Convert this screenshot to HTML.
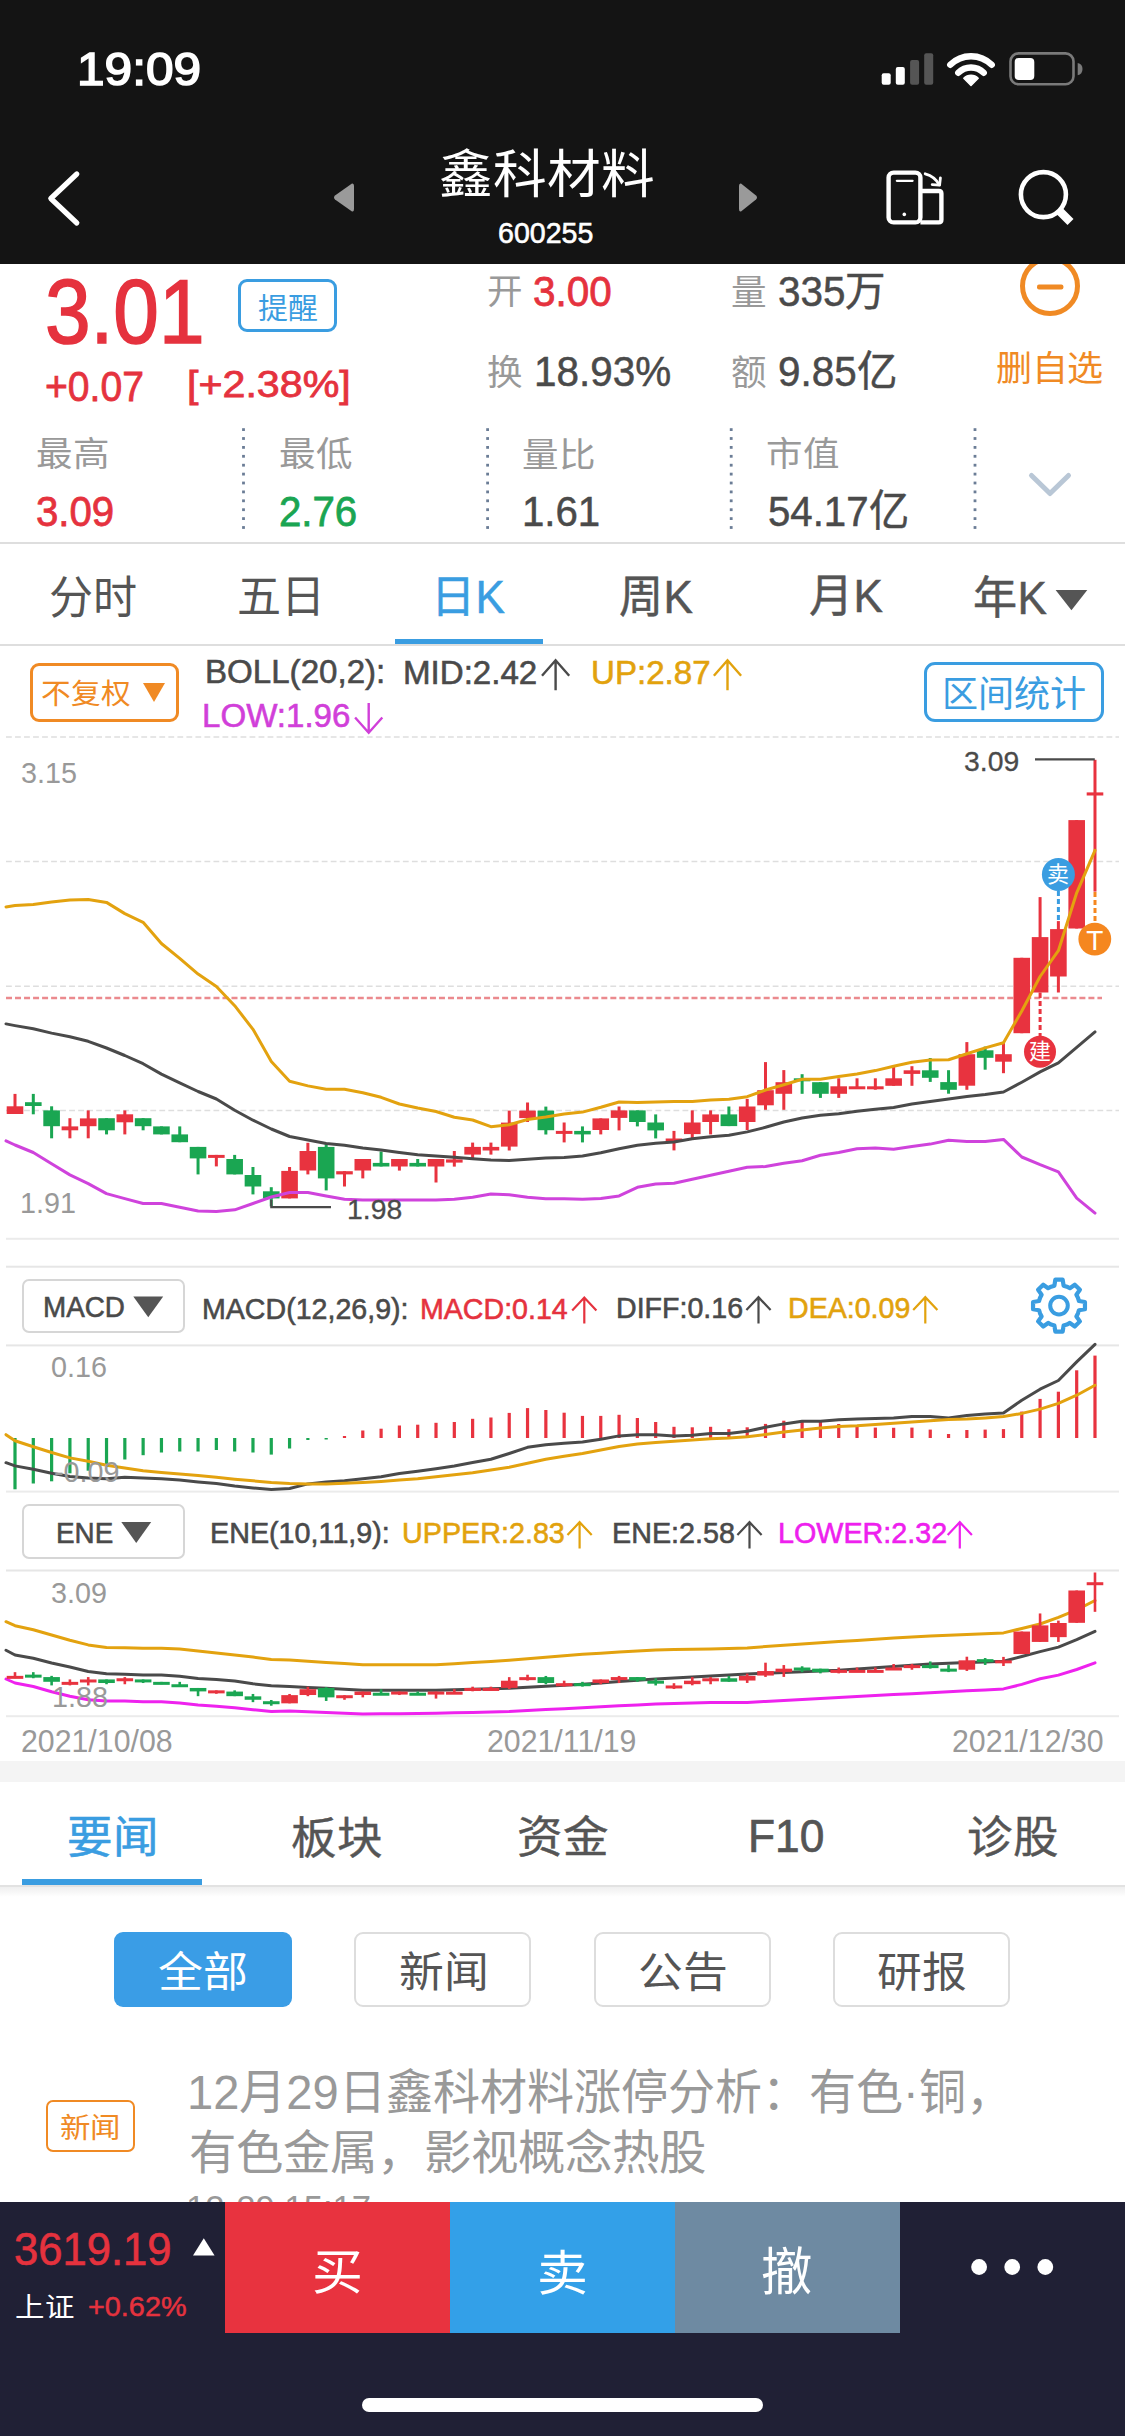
<!DOCTYPE html>
<html lang="zh-CN"><head><meta charset="utf-8"><style>
html,body{margin:0;padding:0}
body{width:1125px;height:2436px;position:relative;overflow:hidden;background:#fff;font-family:"Liberation Sans",sans-serif}
.t{position:absolute;white-space:pre;line-height:1;transform-origin:0 0}
.b{position:absolute;box-sizing:border-box}
svg{position:absolute;left:0;top:0}
</style></head><body>
<div class="b" style="left:0;top:0;width:1125px;height:263.5px;background:#141414;z-index:1"></div>
<svg width="1125" height="2436" viewBox="0 0 1125 2436" style="z-index:0">
<circle cx="1050" cy="286" r="27.5" fill="none" stroke="#f08a24" stroke-width="5"/>
</svg>
<div class="b" style="left:0;top:542.4px;width:1125px;height:2px;background:#dedede"></div>
<div class="b" style="left:0;top:644px;width:1125px;height:2px;background:#dedede"></div>
<div class="b" style="left:394.5px;top:638.6px;width:148.5px;height:5.6px;background:#3a9de1"></div>
<div class="b" style="left:238px;top:279px;width:99px;height:53px;border:3px solid #3a9de1;border-radius:9px"></div>
<div class="b" style="left:30px;top:662.8px;width:149px;height:59px;border:3px solid #f08a24;border-radius:9px"></div>
<div class="b" style="left:924px;top:662.4px;width:180px;height:59.2px;border:3px solid #3a9de1;border-radius:11px"></div>
<div class="b" style="left:22px;top:1279.2px;width:163.3px;height:54.1px;border:2.2px solid #d6d6d6;border-radius:7px"></div>
<div class="b" style="left:22px;top:1503.5px;width:163.3px;height:55.5px;border:2.2px solid #d6d6d6;border-radius:7px"></div>
<div class="b" style="left:0;top:1760.7px;width:1125px;height:21.3px;background:#f4f4f4"></div>
<div class="b" style="left:22px;top:1879px;width:180px;height:6px;background:#3a9de1"></div>
<div class="b" style="left:0;top:1885px;width:1125px;height:2px;background:#e2e2e2"></div>
<div class="b" style="left:0;top:1887px;width:1125px;height:10px;background:linear-gradient(#efefef,#ffffff)"></div>
<div class="b" style="left:114.3px;top:1932.3px;width:178px;height:74.4px;background:#3a9de6;border-radius:9px"></div>
<div class="b" style="left:354.3px;top:1932.3px;width:177px;height:74.4px;border:2.5px solid #dddddd;border-radius:9px"></div>
<div class="b" style="left:593.8px;top:1932.3px;width:177px;height:74.4px;border:2.5px solid #dddddd;border-radius:9px"></div>
<div class="b" style="left:833.3px;top:1932.3px;width:177px;height:74.4px;border:2.5px solid #dddddd;border-radius:9px"></div>
<div class="b" style="left:45.5px;top:2099.5px;width:89.1px;height:52.7px;border:2.6px solid #f08a24;border-radius:7px"></div>
<div class="t" style="left:186px;top:2190.6px;font-size:34.7px;color:#999">12-29 15:17</div>
<svg width="1125" height="2436" viewBox="0 0 1125 2436" style="z-index:2">
<line x1="6.0" y1="737" x2="1119.0" y2="737" stroke="#dedede" stroke-width="1.4" stroke-dasharray="5.8 3.22"/>
<line x1="6.0" y1="861.5" x2="1119.0" y2="861.5" stroke="#dedede" stroke-width="1.4" stroke-dasharray="5.8 3.22"/>
<line x1="6.0" y1="986.2" x2="1119.0" y2="986.2" stroke="#dedede" stroke-width="1.4" stroke-dasharray="5.8 3.22"/>
<line x1="6.0" y1="1110.5" x2="1119.0" y2="1110.5" stroke="#dedede" stroke-width="1.4" stroke-dasharray="5.8 3.22"/>
<rect x="6.0" y="1237.8" width="1113.0" height="2" fill="#ebebeb"/>
<line x1="6.0" y1="998" x2="1102" y2="998" stroke="#eb8a8e" stroke-width="2.3" stroke-dasharray="6 3.02"/>
<line x1="1058.4" y1="891" x2="1058.4" y2="921" stroke="#3a9de1" stroke-width="3" stroke-dasharray="5 3"/>
<line x1="1095.0" y1="892" x2="1095.0" y2="923" stroke="#f5871f" stroke-width="3" stroke-dasharray="5 3"/>
<line x1="1040.1" y1="993" x2="1040.1" y2="1036" stroke="#e8333f" stroke-width="3" stroke-dasharray="5 3"/>
<rect x="13.50" y="1093.90" width="3.0" height="20.10" fill="#e8333f"/>
<rect x="6.70" y="1106.30" width="16.6" height="7.70" fill="#e8333f"/>
<rect x="31.80" y="1093.90" width="3.0" height="20.40" fill="#1aa652"/>
<rect x="25.00" y="1102.20" width="16.6" height="3.80" fill="#1aa652"/>
<rect x="50.11" y="1106.30" width="3.0" height="32.00" fill="#1aa652"/>
<rect x="43.31" y="1110.40" width="16.6" height="15.80" fill="#1aa652"/>
<rect x="68.41" y="1118.20" width="3.0" height="20.10" fill="#e8333f"/>
<rect x="61.61" y="1126.40" width="16.6" height="3.90" fill="#e8333f"/>
<rect x="86.72" y="1110.40" width="3.0" height="27.90" fill="#e8333f"/>
<rect x="79.92" y="1118.40" width="16.6" height="7.80" fill="#e8333f"/>
<rect x="105.03" y="1118.20" width="3.0" height="16.20" fill="#1aa652"/>
<rect x="98.23" y="1118.20" width="16.6" height="12.10" fill="#1aa652"/>
<rect x="123.33" y="1110.40" width="3.0" height="24.00" fill="#e8333f"/>
<rect x="116.53" y="1114.30" width="16.6" height="8.00" fill="#e8333f"/>
<rect x="141.63" y="1118.20" width="3.0" height="12.10" fill="#1aa652"/>
<rect x="134.83" y="1118.20" width="16.6" height="8.00" fill="#1aa652"/>
<rect x="159.94" y="1126.40" width="3.0" height="8.00" fill="#1aa652"/>
<rect x="153.14" y="1126.40" width="16.6" height="8.00" fill="#1aa652"/>
<rect x="178.25" y="1126.40" width="3.0" height="15.80" fill="#1aa652"/>
<rect x="171.44" y="1134.40" width="16.6" height="7.80" fill="#1aa652"/>
<rect x="196.55" y="1146.90" width="3.0" height="27.50" fill="#1aa652"/>
<rect x="189.75" y="1146.90" width="16.6" height="11.50" fill="#1aa652"/>
<rect x="214.85" y="1154.90" width="3.0" height="11.50" fill="#e8333f"/>
<rect x="208.05" y="1154.90" width="16.6" height="3.00" fill="#e8333f"/>
<rect x="233.16" y="1154.90" width="3.0" height="19.50" fill="#1aa652"/>
<rect x="226.36" y="1159.00" width="16.6" height="15.40" fill="#1aa652"/>
<rect x="251.47" y="1167.00" width="3.0" height="27.40" fill="#1aa652"/>
<rect x="244.66" y="1175.00" width="16.6" height="11.50" fill="#1aa652"/>
<rect x="269.77" y="1187.20" width="3.0" height="19.20" fill="#1aa652"/>
<rect x="262.97" y="1191.30" width="16.6" height="7.10" fill="#1aa652"/>
<rect x="288.07" y="1167.00" width="3.0" height="31.40" fill="#e8333f"/>
<rect x="281.27" y="1170.90" width="16.6" height="27.50" fill="#e8333f"/>
<rect x="306.38" y="1142.80" width="3.0" height="31.60" fill="#e8333f"/>
<rect x="299.58" y="1151.00" width="16.6" height="19.50" fill="#e8333f"/>
<rect x="324.69" y="1144.20" width="3.0" height="46.20" fill="#1aa652"/>
<rect x="317.88" y="1146.90" width="16.6" height="31.50" fill="#1aa652"/>
<rect x="342.99" y="1171.20" width="3.0" height="15.30" fill="#e8333f"/>
<rect x="336.19" y="1171.20" width="16.6" height="3.20" fill="#e8333f"/>
<rect x="361.30" y="1159.00" width="3.0" height="19.40" fill="#e8333f"/>
<rect x="354.50" y="1159.00" width="16.6" height="11.50" fill="#e8333f"/>
<rect x="379.60" y="1151.50" width="3.0" height="15.00" fill="#1aa652"/>
<rect x="372.80" y="1162.90" width="16.6" height="3.60" fill="#1aa652"/>
<rect x="397.90" y="1159.00" width="3.0" height="11.60" fill="#e8333f"/>
<rect x="391.10" y="1159.00" width="16.6" height="7.50" fill="#e8333f"/>
<rect x="416.21" y="1159.00" width="3.0" height="7.50" fill="#1aa652"/>
<rect x="409.41" y="1162.90" width="16.6" height="3.60" fill="#1aa652"/>
<rect x="434.51" y="1159.00" width="3.0" height="23.50" fill="#e8333f"/>
<rect x="427.71" y="1159.00" width="16.6" height="7.50" fill="#e8333f"/>
<rect x="452.82" y="1151.00" width="3.0" height="15.60" fill="#e8333f"/>
<rect x="446.02" y="1159.40" width="16.6" height="3.20" fill="#e8333f"/>
<rect x="471.12" y="1142.60" width="3.0" height="15.50" fill="#e8333f"/>
<rect x="464.32" y="1146.90" width="16.6" height="7.70" fill="#e8333f"/>
<rect x="489.43" y="1142.60" width="3.0" height="12.00" fill="#e8333f"/>
<rect x="482.63" y="1146.90" width="16.6" height="3.60" fill="#e8333f"/>
<rect x="507.74" y="1110.60" width="3.0" height="39.90" fill="#e8333f"/>
<rect x="500.94" y="1122.60" width="16.6" height="24.00" fill="#e8333f"/>
<rect x="526.04" y="1102.50" width="3.0" height="19.50" fill="#e8333f"/>
<rect x="519.24" y="1110.60" width="16.6" height="7.50" fill="#e8333f"/>
<rect x="544.35" y="1106.60" width="3.0" height="27.90" fill="#1aa652"/>
<rect x="537.55" y="1110.60" width="16.6" height="19.60" fill="#1aa652"/>
<rect x="562.65" y="1122.50" width="3.0" height="19.90" fill="#e8333f"/>
<rect x="555.85" y="1130.90" width="16.6" height="3.00" fill="#e8333f"/>
<rect x="580.96" y="1126.40" width="3.0" height="16.00" fill="#1aa652"/>
<rect x="574.16" y="1130.90" width="16.6" height="3.50" fill="#1aa652"/>
<rect x="599.26" y="1118.40" width="3.0" height="16.00" fill="#e8333f"/>
<rect x="592.46" y="1118.40" width="16.6" height="11.60" fill="#e8333f"/>
<rect x="617.56" y="1106.50" width="3.0" height="23.90" fill="#e8333f"/>
<rect x="610.76" y="1110.40" width="16.6" height="7.50" fill="#e8333f"/>
<rect x="635.87" y="1110.40" width="3.0" height="16.00" fill="#1aa652"/>
<rect x="629.07" y="1110.40" width="16.6" height="11.60" fill="#1aa652"/>
<rect x="654.17" y="1114.40" width="3.0" height="24.00" fill="#1aa652"/>
<rect x="647.38" y="1122.50" width="16.6" height="7.90" fill="#1aa652"/>
<rect x="672.48" y="1130.90" width="3.0" height="19.50" fill="#e8333f"/>
<rect x="665.68" y="1138.50" width="16.6" height="3.40" fill="#e8333f"/>
<rect x="690.78" y="1110.40" width="3.0" height="27.60" fill="#e8333f"/>
<rect x="683.99" y="1122.50" width="16.6" height="11.60" fill="#e8333f"/>
<rect x="709.09" y="1110.40" width="3.0" height="24.00" fill="#e8333f"/>
<rect x="702.29" y="1114.40" width="16.6" height="7.60" fill="#e8333f"/>
<rect x="727.39" y="1106.50" width="3.0" height="19.60" fill="#1aa652"/>
<rect x="720.60" y="1114.40" width="16.6" height="11.70" fill="#1aa652"/>
<rect x="745.70" y="1098.90" width="3.0" height="31.10" fill="#e8333f"/>
<rect x="738.90" y="1106.50" width="16.6" height="15.50" fill="#e8333f"/>
<rect x="764.00" y="1062.10" width="3.0" height="47.70" fill="#e8333f"/>
<rect x="757.21" y="1090.20" width="16.6" height="15.10" fill="#e8333f"/>
<rect x="782.31" y="1070.10" width="3.0" height="39.70" fill="#e8333f"/>
<rect x="775.51" y="1082.20" width="16.6" height="11.60" fill="#e8333f"/>
<rect x="800.62" y="1074.20" width="3.0" height="19.60" fill="#1aa652"/>
<rect x="793.82" y="1078.30" width="16.6" height="3.00" fill="#1aa652"/>
<rect x="818.92" y="1082.20" width="3.0" height="15.70" fill="#1aa652"/>
<rect x="812.12" y="1082.20" width="16.6" height="11.60" fill="#1aa652"/>
<rect x="837.23" y="1078.30" width="3.0" height="19.60" fill="#e8333f"/>
<rect x="830.43" y="1086.30" width="16.6" height="7.50" fill="#e8333f"/>
<rect x="855.53" y="1078.30" width="3.0" height="10.10" fill="#e8333f"/>
<rect x="848.73" y="1086.30" width="16.6" height="3.00" fill="#e8333f"/>
<rect x="873.84" y="1078.30" width="3.0" height="11.40" fill="#e8333f"/>
<rect x="867.04" y="1086.30" width="16.6" height="3.00" fill="#e8333f"/>
<rect x="892.14" y="1066.60" width="3.0" height="19.20" fill="#e8333f"/>
<rect x="885.34" y="1078.30" width="16.6" height="7.50" fill="#e8333f"/>
<rect x="910.44" y="1066.20" width="3.0" height="19.60" fill="#e8333f"/>
<rect x="903.64" y="1070.30" width="16.6" height="3.60" fill="#e8333f"/>
<rect x="928.75" y="1058.00" width="3.0" height="23.90" fill="#1aa652"/>
<rect x="921.95" y="1070.30" width="16.6" height="7.50" fill="#1aa652"/>
<rect x="947.05" y="1070.20" width="3.0" height="23.50" fill="#1aa652"/>
<rect x="940.25" y="1082.10" width="16.6" height="7.70" fill="#1aa652"/>
<rect x="965.36" y="1042.10" width="3.0" height="47.70" fill="#e8333f"/>
<rect x="958.56" y="1054.20" width="16.6" height="31.50" fill="#e8333f"/>
<rect x="983.66" y="1046.60" width="3.0" height="23.10" fill="#1aa652"/>
<rect x="976.87" y="1050.30" width="16.6" height="7.50" fill="#1aa652"/>
<rect x="1001.97" y="1042.70" width="3.0" height="30.50" fill="#e8333f"/>
<rect x="995.17" y="1054.20" width="16.6" height="7.50" fill="#e8333f"/>
<rect x="1020.27" y="957.80" width="3.0" height="75.40" fill="#e8333f"/>
<rect x="1013.48" y="957.80" width="16.6" height="75.40" fill="#e8333f"/>
<rect x="1038.58" y="897.10" width="3.0" height="95.40" fill="#e8333f"/>
<rect x="1031.78" y="937.10" width="16.6" height="55.40" fill="#e8333f"/>
<rect x="1056.88" y="921.10" width="3.0" height="71.40" fill="#e8333f"/>
<rect x="1050.09" y="929.10" width="16.6" height="47.40" fill="#e8333f"/>
<rect x="1075.19" y="820.10" width="3.0" height="108.40" fill="#e8333f"/>
<rect x="1068.39" y="820.10" width="16.6" height="108.40" fill="#e8333f"/>
<rect x="1093.49" y="759.80" width="3.0" height="131.80" fill="#e8333f"/>
<rect x="1086.69" y="792.40" width="16.6" height="3.10" fill="#e8333f"/>
<polyline points="6.0,1023.9 15.0,1025.6 33.3,1028.8 51.6,1033.1 69.9,1036.8 88.2,1041.3 106.5,1048.0 124.8,1055.5 143.1,1063.7 161.4,1074.1 179.7,1082.8 198.1,1091.5 216.4,1099.0 234.7,1110.2 253.0,1120.2 271.3,1129.0 289.6,1136.5 307.9,1140.0 326.2,1143.5 344.5,1145.3 362.8,1148.0 381.1,1149.9 399.4,1152.5 417.7,1154.7 436.0,1156.0 454.3,1157.3 472.6,1158.7 490.9,1160.0 509.2,1160.5 527.5,1159.2 545.8,1158.0 564.1,1157.5 582.5,1155.9 600.8,1152.7 619.1,1148.7 637.4,1145.2 655.7,1143.3 674.0,1142.0 692.3,1138.8 710.6,1136.7 728.9,1135.3 747.2,1131.9 765.5,1127.3 783.8,1122.0 802.1,1118.0 820.4,1115.3 838.7,1113.8 857.0,1111.3 875.3,1109.3 893.6,1107.4 911.9,1104.1 930.2,1101.5 948.6,1098.9 966.9,1096.4 985.2,1094.6 1003.5,1092.0 1021.8,1082.2 1040.1,1071.9 1058.4,1062.8 1076.7,1047.4 1095.0,1031.9" fill="none" stroke="#4a4a4a" stroke-width="3" stroke-linejoin="round" stroke-linecap="round"/>
<polyline points="6.0,1140.8 15.0,1145.0 33.3,1152.5 51.6,1163.7 69.9,1174.9 88.2,1183.6 106.5,1193.6 124.8,1198.6 143.1,1203.5 161.4,1203.5 179.7,1207.3 198.1,1211.0 216.4,1211.5 234.7,1209.8 253.0,1203.5 271.3,1197.0 289.6,1192.5 307.9,1192.5 326.2,1196.0 344.5,1199.2 362.8,1200.0 381.1,1200.0 399.4,1200.0 417.7,1200.0 436.0,1200.0 454.3,1199.2 472.6,1197.3 490.9,1194.1 509.2,1194.7 527.5,1197.3 545.8,1198.8 564.1,1198.8 582.5,1199.3 600.8,1198.5 619.1,1195.9 637.4,1187.3 655.7,1184.1 674.0,1183.3 692.3,1179.3 710.6,1175.3 728.9,1171.3 747.2,1167.3 765.5,1166.5 783.8,1163.3 802.1,1160.7 820.4,1155.3 838.7,1152.5 857.0,1148.7 875.3,1147.9 893.6,1149.2 911.9,1146.6 930.2,1144.1 948.6,1140.2 966.9,1141.5 985.2,1141.5 1003.5,1139.4 1021.8,1157.0 1040.1,1164.7 1058.4,1171.9 1076.7,1198.2 1095.0,1213.1" fill="none" stroke="#cf43dc" stroke-width="3" stroke-linejoin="round" stroke-linecap="round"/>
<polyline points="6.0,906.9 15.0,905.6 33.3,904.4 51.6,901.9 69.9,899.9 88.2,899.4 106.5,902.4 124.8,913.6 143.1,922.3 161.4,943.5 179.7,958.4 198.1,974.1 216.4,986.5 234.7,1005.7 253.0,1029.3 271.3,1061.5 289.6,1081.3 307.9,1085.9 326.2,1089.3 344.5,1089.3 362.8,1092.8 381.1,1097.3 399.4,1104.0 417.7,1108.0 436.0,1111.5 454.3,1117.3 472.6,1120.0 490.9,1126.7 509.2,1124.8 527.5,1119.5 545.8,1117.0 564.1,1114.0 582.5,1112.1 600.8,1107.3 619.1,1102.0 637.4,1102.5 655.7,1102.0 674.0,1101.5 692.3,1101.5 710.6,1099.9 728.9,1099.3 747.2,1096.7 765.5,1090.0 783.8,1084.7 802.1,1079.3 820.4,1079.3 838.7,1076.6 857.0,1073.9 875.3,1070.6 893.6,1066.2 911.9,1062.3 930.2,1060.0 948.6,1059.7 966.9,1053.8 985.2,1047.9 1003.5,1042.8 1021.8,1011.0 1040.1,976.5 1058.4,950.7 1076.7,892.8 1095.0,850.3" fill="none" stroke="#e3a20f" stroke-width="3" stroke-linejoin="round" stroke-linecap="round"/>
<polyline points="1035,759.4 1094.8,759.4" fill="none" stroke="#4a4a4a" stroke-width="2.2"/>
<polyline points="271.3,1200 271.3,1207.2 331,1207.2" fill="none" stroke="#4a4a4a" stroke-width="2.2"/>
<circle cx="1058.4" cy="874.4" r="16.5" fill="#3a9de1"/>
<text x="1058.4" y="874.4" fill="#fff" font-size="22" font-weight="normal" text-anchor="middle" dominant-baseline="central" font-family="Liberation Sans, sans-serif">卖</text>
<circle cx="1094.8" cy="939.1" r="16.4" fill="#f5871f"/>
<text x="1094.8" y="940.6" fill="#fff" font-size="28" font-weight="normal" text-anchor="middle" dominant-baseline="central" font-family="Liberation Sans, sans-serif">T</text>
<circle cx="1040" cy="1051.8" r="16" fill="#e8333f"/>
<text x="1040" y="1051.8" fill="#fff" font-size="22" font-weight="normal" text-anchor="middle" dominant-baseline="central" font-family="Liberation Sans, sans-serif">建</text>
<rect x="6.0" y="1265.7" width="1113.0" height="2" fill="#e6e6e6"/>
<rect x="6.0" y="1344.4" width="1113.0" height="2" fill="#e6e6e6"/>
<rect x="6.0" y="1490.6" width="1113.0" height="2" fill="#ebebeb"/>
<rect x="13.40" y="1438.00" width="3.2" height="51.30" fill="#1aa652"/>
<rect x="31.70" y="1438.00" width="3.2" height="45.50" fill="#1aa652"/>
<rect x="50.01" y="1438.00" width="3.2" height="43.30" fill="#1aa652"/>
<rect x="68.31" y="1438.00" width="3.2" height="35.30" fill="#1aa652"/>
<rect x="86.62" y="1438.00" width="3.2" height="32.70" fill="#1aa652"/>
<rect x="104.93" y="1438.00" width="3.2" height="27.30" fill="#1aa652"/>
<rect x="123.23" y="1438.00" width="3.2" height="21.50" fill="#1aa652"/>
<rect x="141.53" y="1438.00" width="3.2" height="17.20" fill="#1aa652"/>
<rect x="159.84" y="1438.00" width="3.2" height="14.50" fill="#1aa652"/>
<rect x="178.15" y="1438.00" width="3.2" height="13.50" fill="#1aa652"/>
<rect x="196.45" y="1438.00" width="3.2" height="13.50" fill="#1aa652"/>
<rect x="214.75" y="1438.00" width="3.2" height="12.00" fill="#1aa652"/>
<rect x="233.06" y="1438.00" width="3.2" height="13.50" fill="#1aa652"/>
<rect x="251.37" y="1438.00" width="3.2" height="14.50" fill="#1aa652"/>
<rect x="269.67" y="1438.00" width="3.2" height="16.60" fill="#1aa652"/>
<rect x="287.97" y="1438.00" width="3.2" height="10.50" fill="#1aa652"/>
<rect x="306.28" y="1438.00" width="3.2" height="2.00" fill="#1aa652"/>
<rect x="324.58" y="1438.00" width="3.2" height="1.50" fill="#1aa652"/>
<rect x="342.89" y="1436.00" width="3.2" height="2.00" fill="#e8333f"/>
<rect x="361.19" y="1430.50" width="3.2" height="7.50" fill="#e8333f"/>
<rect x="379.50" y="1428.70" width="3.2" height="9.30" fill="#e8333f"/>
<rect x="397.80" y="1425.50" width="3.2" height="12.50" fill="#e8333f"/>
<rect x="416.11" y="1424.70" width="3.2" height="13.30" fill="#e8333f"/>
<rect x="434.41" y="1422.80" width="3.2" height="15.20" fill="#e8333f"/>
<rect x="452.72" y="1422.00" width="3.2" height="16.00" fill="#e8333f"/>
<rect x="471.02" y="1418.80" width="3.2" height="19.20" fill="#e8333f"/>
<rect x="489.33" y="1417.50" width="3.2" height="20.50" fill="#e8333f"/>
<rect x="507.63" y="1412.90" width="3.2" height="25.10" fill="#e8333f"/>
<rect x="525.94" y="1408.10" width="3.2" height="29.90" fill="#e8333f"/>
<rect x="544.25" y="1410.00" width="3.2" height="28.00" fill="#e8333f"/>
<rect x="562.55" y="1412.70" width="3.2" height="25.30" fill="#e8333f"/>
<rect x="580.86" y="1415.90" width="3.2" height="22.10" fill="#e8333f"/>
<rect x="599.16" y="1415.90" width="3.2" height="22.10" fill="#e8333f"/>
<rect x="617.46" y="1414.80" width="3.2" height="23.20" fill="#e8333f"/>
<rect x="635.77" y="1418.00" width="3.2" height="20.00" fill="#e8333f"/>
<rect x="654.07" y="1422.00" width="3.2" height="16.00" fill="#e8333f"/>
<rect x="672.38" y="1426.80" width="3.2" height="11.20" fill="#e8333f"/>
<rect x="690.68" y="1427.30" width="3.2" height="10.70" fill="#e8333f"/>
<rect x="708.99" y="1426.80" width="3.2" height="11.20" fill="#e8333f"/>
<rect x="727.29" y="1429.20" width="3.2" height="8.80" fill="#e8333f"/>
<rect x="745.60" y="1427.30" width="3.2" height="10.70" fill="#e8333f"/>
<rect x="763.90" y="1423.90" width="3.2" height="14.10" fill="#e8333f"/>
<rect x="782.21" y="1420.70" width="3.2" height="17.30" fill="#e8333f"/>
<rect x="800.51" y="1420.10" width="3.2" height="17.90" fill="#e8333f"/>
<rect x="818.82" y="1422.00" width="3.2" height="16.00" fill="#e8333f"/>
<rect x="837.12" y="1424.00" width="3.2" height="14.00" fill="#e8333f"/>
<rect x="855.43" y="1426.60" width="3.2" height="11.40" fill="#e8333f"/>
<rect x="873.74" y="1427.60" width="3.2" height="10.40" fill="#e8333f"/>
<rect x="892.04" y="1427.80" width="3.2" height="10.20" fill="#e8333f"/>
<rect x="910.34" y="1427.60" width="3.2" height="10.40" fill="#e8333f"/>
<rect x="928.65" y="1429.60" width="3.2" height="8.40" fill="#e8333f"/>
<rect x="946.95" y="1434.00" width="3.2" height="4.00" fill="#e8333f"/>
<rect x="965.26" y="1430.00" width="3.2" height="8.00" fill="#e8333f"/>
<rect x="983.56" y="1429.60" width="3.2" height="8.40" fill="#e8333f"/>
<rect x="1001.87" y="1429.10" width="3.2" height="8.90" fill="#e8333f"/>
<rect x="1020.17" y="1411.60" width="3.2" height="26.40" fill="#e8333f"/>
<rect x="1038.48" y="1398.90" width="3.2" height="39.10" fill="#e8333f"/>
<rect x="1056.79" y="1391.70" width="3.2" height="46.30" fill="#e8333f"/>
<rect x="1075.09" y="1370.30" width="3.2" height="67.70" fill="#e8333f"/>
<rect x="1093.39" y="1355.60" width="3.2" height="82.40" fill="#e8333f"/>
<polyline points="6.0,1462.7 15.0,1465.9 33.3,1469.3 51.6,1473.3 69.9,1476.5 88.2,1478.1 106.5,1478.7 124.8,1477.3 143.1,1478.1 161.4,1478.7 179.7,1480.0 198.1,1481.9 216.4,1483.5 234.7,1486.1 253.0,1488.0 271.3,1489.5 289.6,1488.5 307.9,1483.9 326.2,1482.0 344.5,1480.7 362.8,1478.8 381.1,1476.7 399.4,1473.5 417.7,1471.3 436.0,1468.7 454.3,1466.0 472.6,1462.5 490.9,1459.3 509.2,1453.5 527.5,1447.3 545.8,1444.7 564.1,1443.3 582.5,1442.0 600.8,1439.3 619.1,1435.9 637.4,1434.8 655.7,1434.8 674.0,1435.9 692.3,1435.3 710.6,1433.5 728.9,1433.5 747.2,1431.3 765.5,1427.3 783.8,1423.9 802.1,1421.2 820.4,1421.2 838.7,1419.8 857.0,1419.1 875.3,1418.6 893.6,1417.9 911.9,1416.4 930.2,1416.4 948.6,1417.9 966.9,1415.4 985.2,1414.1 1003.5,1412.9 1021.8,1400.2 1040.1,1389.2 1058.4,1380.5 1076.7,1361.9 1095.0,1344.4" fill="none" stroke="#4a4a4a" stroke-width="3" stroke-linejoin="round" stroke-linecap="round"/>
<polyline points="6.0,1434.7 15.0,1440.8 33.3,1446.7 51.6,1452.5 69.9,1457.9 88.2,1461.3 106.5,1465.3 124.8,1468.0 143.1,1470.7 161.4,1472.5 179.7,1474.1 198.1,1475.5 216.4,1477.3 234.7,1479.2 253.0,1480.8 271.3,1482.4 289.6,1483.4 307.9,1483.9 326.2,1483.9 344.5,1483.3 362.8,1482.5 381.1,1481.5 399.4,1480.1 417.7,1478.8 436.0,1476.7 454.3,1474.8 472.6,1472.7 490.9,1470.0 509.2,1467.3 527.5,1463.3 545.8,1459.3 564.1,1456.2 582.5,1453.5 600.8,1450.0 619.1,1446.5 637.4,1444.1 655.7,1442.5 674.0,1441.2 692.3,1439.9 710.6,1438.8 728.9,1438.0 747.2,1436.7 765.5,1434.5 783.8,1432.1 802.1,1430.0 820.4,1428.1 838.7,1426.5 857.0,1425.8 875.3,1424.6 893.6,1423.3 911.9,1422.1 930.2,1420.8 948.6,1419.6 966.9,1419.1 985.2,1417.9 1003.5,1416.6 1021.8,1413.4 1040.1,1409.1 1058.4,1403.4 1076.7,1395.2 1095.0,1385.3" fill="none" stroke="#e3a20f" stroke-width="3" stroke-linejoin="round" stroke-linecap="round"/>
<rect x="6.0" y="1569.5" width="1113.0" height="2" fill="#e6e6e6"/>
<rect x="6.0" y="1715.2" width="1113.0" height="2" fill="#ebebeb"/>
<polyline points="6.0,1621.7 15.0,1625.7 33.3,1629.7 51.6,1635.0 69.9,1640.3 88.2,1644.9 106.5,1647.5 124.8,1647.8 143.1,1648.3 161.4,1648.3 179.7,1649.1 198.1,1651.0 216.4,1652.9 234.7,1655.0 253.0,1657.1 271.3,1659.5 289.6,1660.0 307.9,1661.2 326.2,1662.4 344.5,1663.6 362.8,1664.8 381.1,1664.8 399.4,1664.8 417.7,1664.8 436.0,1664.8 454.3,1663.7 472.6,1662.5 490.9,1661.4 509.2,1660.3 527.5,1658.8 545.8,1657.3 564.1,1655.8 582.5,1654.3 600.8,1653.2 619.1,1652.1 637.4,1651.0 655.7,1649.9 674.0,1649.6 692.3,1649.3 710.6,1649.0 728.9,1648.5 747.2,1647.9 765.5,1646.6 783.8,1645.3 802.1,1644.1 820.4,1642.8 838.7,1641.5 857.0,1640.4 875.3,1639.3 893.6,1638.1 911.9,1637.0 930.2,1635.9 948.6,1635.2 966.9,1634.4 985.2,1633.7 1003.5,1632.9 1021.8,1628.5 1040.1,1624.0 1058.4,1617.3 1076.7,1609.8 1095.0,1600.5" fill="none" stroke="#e3a20f" stroke-width="3" stroke-linejoin="round" stroke-linecap="round"/>
<polyline points="6.0,1650.2 15.0,1655.0 33.3,1658.2 51.6,1663.0 69.9,1667.0 88.2,1671.5 106.5,1673.7 124.8,1674.2 143.1,1675.0 161.4,1675.0 179.7,1676.3 198.1,1678.5 216.4,1679.5 234.7,1681.1 253.0,1683.8 271.3,1685.7 289.6,1686.4 307.9,1687.4 326.2,1688.3 344.5,1689.2 362.8,1690.2 381.1,1690.2 399.4,1690.2 417.7,1690.2 436.0,1690.2 454.3,1689.7 472.6,1689.2 490.9,1688.8 509.2,1688.3 527.5,1687.3 545.8,1686.2 564.1,1685.2 582.5,1684.2 600.8,1682.9 619.1,1681.6 637.4,1680.3 655.7,1679.0 674.0,1678.0 692.3,1677.0 710.6,1676.0 728.9,1675.0 747.2,1674.0 765.5,1673.3 783.8,1672.5 802.1,1671.8 820.4,1671.0 838.7,1670.3 857.0,1669.0 875.3,1667.7 893.6,1666.5 911.9,1665.2 930.2,1663.9 948.6,1663.2 966.9,1662.6 985.2,1662.0 1003.5,1661.3 1021.8,1656.5 1040.1,1651.6 1058.4,1647.1 1076.7,1639.7 1095.0,1631.4" fill="none" stroke="#4a4a4a" stroke-width="3" stroke-linejoin="round" stroke-linecap="round"/>
<polyline points="6.0,1679.0 15.0,1683.0 33.3,1686.5 51.6,1691.8 69.9,1696.3 88.2,1699.8 106.5,1700.9 124.8,1700.9 143.1,1701.7 161.4,1701.7 179.7,1703.0 198.1,1704.9 216.4,1706.2 234.7,1707.8 253.0,1709.7 271.3,1711.5 289.6,1711.0 307.9,1711.8 326.2,1712.5 344.5,1713.2 362.8,1714.0 381.1,1713.8 399.4,1713.7 417.7,1713.5 436.0,1713.3 454.3,1712.8 472.6,1712.4 490.9,1712.0 509.2,1711.5 527.5,1710.5 545.8,1709.6 564.1,1708.7 582.5,1707.7 600.8,1706.8 619.1,1705.8 637.4,1704.9 655.7,1704.0 674.0,1703.5 692.3,1703.0 710.6,1702.5 728.9,1702.5 747.2,1702.4 765.5,1701.4 783.8,1700.4 802.1,1699.5 820.4,1698.5 838.7,1697.5 857.0,1696.5 875.3,1695.6 893.6,1694.6 911.9,1693.7 930.2,1692.7 948.6,1691.8 966.9,1690.8 985.2,1689.9 1003.5,1688.9 1021.8,1684.4 1040.1,1678.8 1058.4,1675.1 1076.7,1669.5 1095.0,1662.8" fill="none" stroke="#ee22ee" stroke-width="3" stroke-linejoin="round" stroke-linecap="round"/>
<rect x="13.70" y="1672.16" width="2.6" height="6.00" fill="#e8333f"/>
<rect x="6.70" y="1675.86" width="16.6" height="3.00" fill="#e8333f"/>
<rect x="32.01" y="1672.16" width="2.6" height="6.09" fill="#1aa652"/>
<rect x="25.00" y="1674.64" width="16.6" height="3.00" fill="#1aa652"/>
<rect x="50.31" y="1675.86" width="2.6" height="9.55" fill="#1aa652"/>
<rect x="43.31" y="1677.08" width="16.6" height="4.71" fill="#1aa652"/>
<rect x="68.61" y="1679.41" width="2.6" height="6.00" fill="#e8333f"/>
<rect x="61.61" y="1681.86" width="16.6" height="3.00" fill="#e8333f"/>
<rect x="86.92" y="1677.08" width="2.6" height="8.32" fill="#e8333f"/>
<rect x="79.92" y="1679.47" width="16.6" height="3.00" fill="#e8333f"/>
<rect x="105.23" y="1679.41" width="2.6" height="4.83" fill="#1aa652"/>
<rect x="98.23" y="1679.41" width="16.6" height="3.61" fill="#1aa652"/>
<rect x="123.53" y="1677.08" width="2.6" height="7.16" fill="#e8333f"/>
<rect x="116.53" y="1678.25" width="16.6" height="3.00" fill="#e8333f"/>
<rect x="141.83" y="1679.41" width="2.6" height="3.61" fill="#1aa652"/>
<rect x="134.83" y="1679.41" width="16.6" height="3.00" fill="#1aa652"/>
<rect x="160.14" y="1681.86" width="2.6" height="2.39" fill="#1aa652"/>
<rect x="153.14" y="1681.86" width="16.6" height="3.00" fill="#1aa652"/>
<rect x="178.44" y="1681.86" width="2.6" height="4.71" fill="#1aa652"/>
<rect x="171.44" y="1684.24" width="16.6" height="3.00" fill="#1aa652"/>
<rect x="196.75" y="1687.97" width="2.6" height="8.20" fill="#1aa652"/>
<rect x="189.75" y="1687.97" width="16.6" height="3.43" fill="#1aa652"/>
<rect x="215.05" y="1690.36" width="2.6" height="3.43" fill="#e8333f"/>
<rect x="208.05" y="1690.36" width="16.6" height="3.00" fill="#e8333f"/>
<rect x="233.36" y="1690.36" width="2.6" height="5.82" fill="#1aa652"/>
<rect x="226.36" y="1691.58" width="16.6" height="4.59" fill="#1aa652"/>
<rect x="251.66" y="1693.97" width="2.6" height="8.17" fill="#1aa652"/>
<rect x="244.66" y="1696.35" width="16.6" height="3.43" fill="#1aa652"/>
<rect x="269.97" y="1699.99" width="2.6" height="5.73" fill="#1aa652"/>
<rect x="262.97" y="1701.22" width="16.6" height="3.00" fill="#1aa652"/>
<rect x="288.27" y="1693.97" width="2.6" height="9.37" fill="#e8333f"/>
<rect x="281.27" y="1695.13" width="16.6" height="8.20" fill="#e8333f"/>
<rect x="306.58" y="1686.75" width="2.6" height="9.43" fill="#e8333f"/>
<rect x="299.58" y="1689.19" width="16.6" height="5.82" fill="#e8333f"/>
<rect x="324.88" y="1687.17" width="2.6" height="13.78" fill="#1aa652"/>
<rect x="317.88" y="1687.97" width="16.6" height="9.40" fill="#1aa652"/>
<rect x="343.19" y="1695.22" width="2.6" height="4.56" fill="#e8333f"/>
<rect x="336.19" y="1695.22" width="16.6" height="3.00" fill="#e8333f"/>
<rect x="361.50" y="1691.58" width="2.6" height="5.79" fill="#e8333f"/>
<rect x="354.50" y="1691.58" width="16.6" height="3.43" fill="#e8333f"/>
<rect x="379.80" y="1689.34" width="2.6" height="4.47" fill="#1aa652"/>
<rect x="372.80" y="1692.74" width="16.6" height="3.00" fill="#1aa652"/>
<rect x="398.10" y="1691.58" width="2.6" height="3.46" fill="#e8333f"/>
<rect x="391.10" y="1691.58" width="16.6" height="3.00" fill="#e8333f"/>
<rect x="416.41" y="1691.58" width="2.6" height="2.24" fill="#1aa652"/>
<rect x="409.41" y="1692.74" width="16.6" height="3.00" fill="#1aa652"/>
<rect x="434.71" y="1691.58" width="2.6" height="7.01" fill="#e8333f"/>
<rect x="427.71" y="1691.58" width="16.6" height="3.00" fill="#e8333f"/>
<rect x="453.02" y="1689.19" width="2.6" height="4.65" fill="#e8333f"/>
<rect x="446.02" y="1691.70" width="16.6" height="3.00" fill="#e8333f"/>
<rect x="471.32" y="1686.69" width="2.6" height="4.62" fill="#e8333f"/>
<rect x="464.32" y="1687.97" width="16.6" height="3.00" fill="#e8333f"/>
<rect x="489.63" y="1686.69" width="2.6" height="3.58" fill="#e8333f"/>
<rect x="482.63" y="1687.97" width="16.6" height="3.00" fill="#e8333f"/>
<rect x="507.94" y="1677.14" width="2.6" height="11.90" fill="#e8333f"/>
<rect x="500.94" y="1680.72" width="16.6" height="7.16" fill="#e8333f"/>
<rect x="526.24" y="1674.73" width="2.6" height="5.82" fill="#e8333f"/>
<rect x="519.24" y="1677.14" width="16.6" height="3.00" fill="#e8333f"/>
<rect x="544.55" y="1675.95" width="2.6" height="8.32" fill="#1aa652"/>
<rect x="537.55" y="1677.14" width="16.6" height="5.85" fill="#1aa652"/>
<rect x="562.85" y="1680.69" width="2.6" height="5.94" fill="#e8333f"/>
<rect x="555.85" y="1683.20" width="16.6" height="3.00" fill="#e8333f"/>
<rect x="581.16" y="1681.86" width="2.6" height="4.77" fill="#1aa652"/>
<rect x="574.16" y="1683.20" width="16.6" height="3.00" fill="#1aa652"/>
<rect x="599.46" y="1679.47" width="2.6" height="4.77" fill="#e8333f"/>
<rect x="592.46" y="1679.47" width="16.6" height="3.46" fill="#e8333f"/>
<rect x="617.76" y="1675.92" width="2.6" height="7.13" fill="#e8333f"/>
<rect x="610.76" y="1677.08" width="16.6" height="3.00" fill="#e8333f"/>
<rect x="636.07" y="1677.08" width="2.6" height="4.77" fill="#1aa652"/>
<rect x="629.07" y="1677.08" width="16.6" height="3.46" fill="#1aa652"/>
<rect x="654.38" y="1678.28" width="2.6" height="7.16" fill="#1aa652"/>
<rect x="647.38" y="1680.69" width="16.6" height="3.00" fill="#1aa652"/>
<rect x="672.68" y="1683.20" width="2.6" height="5.82" fill="#e8333f"/>
<rect x="665.68" y="1685.47" width="16.6" height="3.00" fill="#e8333f"/>
<rect x="690.99" y="1677.08" width="2.6" height="8.23" fill="#e8333f"/>
<rect x="683.99" y="1680.69" width="16.6" height="3.46" fill="#e8333f"/>
<rect x="709.29" y="1677.08" width="2.6" height="7.16" fill="#e8333f"/>
<rect x="702.29" y="1678.28" width="16.6" height="3.00" fill="#e8333f"/>
<rect x="727.60" y="1675.92" width="2.6" height="5.85" fill="#1aa652"/>
<rect x="720.60" y="1678.28" width="16.6" height="3.49" fill="#1aa652"/>
<rect x="745.90" y="1673.65" width="2.6" height="9.28" fill="#e8333f"/>
<rect x="738.90" y="1675.92" width="16.6" height="4.62" fill="#e8333f"/>
<rect x="764.21" y="1662.68" width="2.6" height="14.23" fill="#e8333f"/>
<rect x="757.21" y="1671.06" width="16.6" height="4.50" fill="#e8333f"/>
<rect x="782.51" y="1665.06" width="2.6" height="11.84" fill="#e8333f"/>
<rect x="775.51" y="1668.67" width="16.6" height="3.46" fill="#e8333f"/>
<rect x="800.82" y="1666.29" width="2.6" height="5.85" fill="#1aa652"/>
<rect x="793.82" y="1667.51" width="16.6" height="3.00" fill="#1aa652"/>
<rect x="819.12" y="1668.67" width="2.6" height="4.68" fill="#1aa652"/>
<rect x="812.12" y="1668.67" width="16.6" height="3.46" fill="#1aa652"/>
<rect x="837.43" y="1667.51" width="2.6" height="5.85" fill="#e8333f"/>
<rect x="830.43" y="1669.89" width="16.6" height="3.00" fill="#e8333f"/>
<rect x="855.73" y="1667.51" width="2.6" height="3.01" fill="#e8333f"/>
<rect x="848.73" y="1669.89" width="16.6" height="3.00" fill="#e8333f"/>
<rect x="874.04" y="1667.51" width="2.6" height="3.40" fill="#e8333f"/>
<rect x="867.04" y="1669.89" width="16.6" height="3.00" fill="#e8333f"/>
<rect x="892.34" y="1664.02" width="2.6" height="5.73" fill="#e8333f"/>
<rect x="885.34" y="1667.51" width="16.6" height="3.00" fill="#e8333f"/>
<rect x="910.64" y="1663.90" width="2.6" height="5.85" fill="#e8333f"/>
<rect x="903.64" y="1665.12" width="16.6" height="3.00" fill="#e8333f"/>
<rect x="928.95" y="1661.45" width="2.6" height="7.13" fill="#1aa652"/>
<rect x="921.95" y="1665.12" width="16.6" height="3.00" fill="#1aa652"/>
<rect x="947.25" y="1665.09" width="2.6" height="7.01" fill="#1aa652"/>
<rect x="940.25" y="1668.64" width="16.6" height="3.00" fill="#1aa652"/>
<rect x="965.56" y="1656.71" width="2.6" height="14.23" fill="#e8333f"/>
<rect x="958.56" y="1660.32" width="16.6" height="9.40" fill="#e8333f"/>
<rect x="983.87" y="1658.05" width="2.6" height="6.89" fill="#1aa652"/>
<rect x="976.87" y="1659.16" width="16.6" height="3.00" fill="#1aa652"/>
<rect x="1002.17" y="1656.89" width="2.6" height="9.10" fill="#e8333f"/>
<rect x="995.17" y="1660.32" width="16.6" height="3.00" fill="#e8333f"/>
<rect x="1020.48" y="1631.56" width="2.6" height="22.49" fill="#e8333f"/>
<rect x="1013.48" y="1631.56" width="16.6" height="22.49" fill="#e8333f"/>
<rect x="1038.78" y="1613.46" width="2.6" height="28.46" fill="#e8333f"/>
<rect x="1031.78" y="1625.39" width="16.6" height="16.53" fill="#e8333f"/>
<rect x="1057.09" y="1620.62" width="2.6" height="21.30" fill="#e8333f"/>
<rect x="1050.09" y="1623.00" width="16.6" height="14.14" fill="#e8333f"/>
<rect x="1075.39" y="1590.49" width="2.6" height="32.34" fill="#e8333f"/>
<rect x="1068.39" y="1590.49" width="16.6" height="32.34" fill="#e8333f"/>
<rect x="1093.69" y="1572.50" width="2.6" height="39.32" fill="#e8333f"/>
<rect x="1086.69" y="1582.22" width="16.6" height="3.00" fill="#e8333f"/>
<rect x="881.7" y="73.2" width="9" height="11.6" rx="2" fill="#fff"/>
<rect x="895.8" y="67" width="9" height="17.8" rx="2" fill="#fff"/>
<rect x="910.1" y="60" width="9" height="24.8" rx="2" fill="#555"/>
<rect x="924.2" y="53.3" width="9" height="31.5" rx="2" fill="#555"/>
<path d="M950.28,64.78 A29.3,29.3 0 0 1 991.72,64.78" fill="none" stroke="#fff" stroke-width="6.4" stroke-linecap="round"/>
<path d="M958.27,72.77 A18.0,18.0 0 0 1 983.73,72.77" fill="none" stroke="#fff" stroke-width="6.4" stroke-linecap="round"/>
<path d="M971,85.5 L963.8,78.3 A10.2,10.2 0 0 1 978.2,78.3 Z" fill="#fff" stroke="#fff" stroke-width="1.5" stroke-linejoin="round"/>
<rect x="1010.5" y="53.4" width="63" height="30.8" rx="8" fill="none" stroke="#7a7a7a" stroke-width="2.6"/>
<rect x="1014.7" y="58" width="19.6" height="22.1" rx="4" fill="#fff"/>
<path d="M1077.7,63 Q1082.5,64 1082.5,69 Q1082.5,74.2 1077.7,75.2 Z" fill="#7a7a7a"/>
<polyline points="76.8,174 50.8,198.5 76.8,223" fill="none" stroke="#fff" stroke-width="5.2" stroke-linecap="round" stroke-linejoin="round"/>
<path d="M352,183.5 Q354,183 354,186 L354,209 Q354,212 352,211.5 L335,199.5 Q333,197.5 335,195.5 Z" fill="#9a9a9a"/>
<path d="M741,183.5 Q739,183 739,186 L739,209 Q739,212 741,211.5 L756,199.5 Q758,197.5 756,195.5 Z" fill="#9a9a9a"/>
<path d="M920.4,191 L938.8,191 Q941.4,191 941.4,193.6 L941.4,219.8 Q941.4,222.4 938.8,222.4 L920.4,222.4" fill="none" stroke="#fff" stroke-width="4.4"/>
<rect x="888.6" y="172.6" width="31.8" height="49.8" rx="5" fill="none" stroke="#fff" stroke-width="4.4"/>
<line x1="896.8" y1="180.8" x2="912.6" y2="180.8" stroke="#fff" stroke-width="2.2" stroke-linecap="round"/>
<circle cx="904.3" cy="214.4" r="1.8" fill="#fff"/>
<path d="M925.2,173.8 Q935,176.5 939.2,184.8" fill="none" stroke="#fff" stroke-width="2.8" stroke-linecap="round"/>
<polyline points="932.2,184.6 939.6,185.2 940.4,177.8" fill="none" stroke="#fff" stroke-width="2.8" stroke-linecap="round" stroke-linejoin="round"/>
<circle cx="1043.4" cy="194.6" r="22.5" fill="none" stroke="#fff" stroke-width="4.6"/>
<line x1="1059.5" y1="211" x2="1070.5" y2="222" stroke="#fff" stroke-width="8.5" stroke-linecap="butt"/>
<rect x="1037" y="284.5" width="26.4" height="5" rx="2" fill="#f08a24"/>
<rect x="242.1" y="428.2" width="2.8" height="2.8" fill="#6b7d96"/>
<rect x="242.1" y="437.1" width="2.8" height="2.8" fill="#6b7d96"/>
<rect x="242.1" y="446.0" width="2.8" height="2.8" fill="#6b7d96"/>
<rect x="242.1" y="454.9" width="2.8" height="2.8" fill="#6b7d96"/>
<rect x="242.1" y="463.8" width="2.8" height="2.8" fill="#6b7d96"/>
<rect x="242.1" y="472.7" width="2.8" height="2.8" fill="#6b7d96"/>
<rect x="242.1" y="481.6" width="2.8" height="2.8" fill="#6b7d96"/>
<rect x="242.1" y="490.5" width="2.8" height="2.8" fill="#6b7d96"/>
<rect x="242.1" y="499.4" width="2.8" height="2.8" fill="#6b7d96"/>
<rect x="242.1" y="508.3" width="2.8" height="2.8" fill="#6b7d96"/>
<rect x="242.1" y="517.2" width="2.8" height="2.8" fill="#6b7d96"/>
<rect x="242.1" y="526.1" width="2.8" height="2.8" fill="#6b7d96"/>
<rect x="486.20000000000005" y="428.2" width="2.8" height="2.8" fill="#6b7d96"/>
<rect x="486.20000000000005" y="437.1" width="2.8" height="2.8" fill="#6b7d96"/>
<rect x="486.20000000000005" y="446.0" width="2.8" height="2.8" fill="#6b7d96"/>
<rect x="486.20000000000005" y="454.9" width="2.8" height="2.8" fill="#6b7d96"/>
<rect x="486.20000000000005" y="463.8" width="2.8" height="2.8" fill="#6b7d96"/>
<rect x="486.20000000000005" y="472.7" width="2.8" height="2.8" fill="#6b7d96"/>
<rect x="486.20000000000005" y="481.6" width="2.8" height="2.8" fill="#6b7d96"/>
<rect x="486.20000000000005" y="490.5" width="2.8" height="2.8" fill="#6b7d96"/>
<rect x="486.20000000000005" y="499.4" width="2.8" height="2.8" fill="#6b7d96"/>
<rect x="486.20000000000005" y="508.3" width="2.8" height="2.8" fill="#6b7d96"/>
<rect x="486.20000000000005" y="517.2" width="2.8" height="2.8" fill="#6b7d96"/>
<rect x="486.20000000000005" y="526.1" width="2.8" height="2.8" fill="#6b7d96"/>
<rect x="729.8000000000001" y="428.2" width="2.8" height="2.8" fill="#6b7d96"/>
<rect x="729.8000000000001" y="437.1" width="2.8" height="2.8" fill="#6b7d96"/>
<rect x="729.8000000000001" y="446.0" width="2.8" height="2.8" fill="#6b7d96"/>
<rect x="729.8000000000001" y="454.9" width="2.8" height="2.8" fill="#6b7d96"/>
<rect x="729.8000000000001" y="463.8" width="2.8" height="2.8" fill="#6b7d96"/>
<rect x="729.8000000000001" y="472.7" width="2.8" height="2.8" fill="#6b7d96"/>
<rect x="729.8000000000001" y="481.6" width="2.8" height="2.8" fill="#6b7d96"/>
<rect x="729.8000000000001" y="490.5" width="2.8" height="2.8" fill="#6b7d96"/>
<rect x="729.8000000000001" y="499.4" width="2.8" height="2.8" fill="#6b7d96"/>
<rect x="729.8000000000001" y="508.3" width="2.8" height="2.8" fill="#6b7d96"/>
<rect x="729.8000000000001" y="517.2" width="2.8" height="2.8" fill="#6b7d96"/>
<rect x="729.8000000000001" y="526.1" width="2.8" height="2.8" fill="#6b7d96"/>
<rect x="973.6" y="428.2" width="2.8" height="2.8" fill="#6b7d96"/>
<rect x="973.6" y="437.1" width="2.8" height="2.8" fill="#6b7d96"/>
<rect x="973.6" y="446.0" width="2.8" height="2.8" fill="#6b7d96"/>
<rect x="973.6" y="454.9" width="2.8" height="2.8" fill="#6b7d96"/>
<rect x="973.6" y="463.8" width="2.8" height="2.8" fill="#6b7d96"/>
<rect x="973.6" y="472.7" width="2.8" height="2.8" fill="#6b7d96"/>
<rect x="973.6" y="481.6" width="2.8" height="2.8" fill="#6b7d96"/>
<rect x="973.6" y="490.5" width="2.8" height="2.8" fill="#6b7d96"/>
<rect x="973.6" y="499.4" width="2.8" height="2.8" fill="#6b7d96"/>
<rect x="973.6" y="508.3" width="2.8" height="2.8" fill="#6b7d96"/>
<rect x="973.6" y="517.2" width="2.8" height="2.8" fill="#6b7d96"/>
<rect x="973.6" y="526.1" width="2.8" height="2.8" fill="#6b7d96"/>
<polyline points="1031.5,475.5 1050,493.5 1068.5,475.5" fill="none" stroke="#b9c7d6" stroke-width="5" stroke-linecap="round" stroke-linejoin="round"/>
<path d="M143,683 L165,683 L154.0,702 Z" fill="#f08a24"/>
<path d="M1055.6,590 L1087.3,590 L1071.4499999999998,610.3 Z" fill="#555"/>
<path d="M133.3,1296.5 L163.2,1296.5 L148.25,1317.3 Z" fill="#555"/>
<path d="M121.3,1522 L151.2,1522 L136.25,1543 Z" fill="#555"/>
<path d="M203.8,2238.2 L214.6,2255.4 L193,2255.4 Z" fill="#fff"/>
<path d="M1051.15,1286.66 L1054.39,1285.63 L1055.35,1279.65 L1062.65,1279.65 L1063.61,1285.63 L1066.85,1286.66 L1069.86,1288.22 L1074.77,1284.68 L1079.92,1289.83 L1076.38,1294.74 L1077.94,1297.75 L1078.97,1300.99 L1084.95,1301.95 L1084.95,1309.25 L1078.97,1310.21 L1077.94,1313.45 L1076.38,1316.46 L1079.92,1321.37 L1074.77,1326.52 L1069.86,1322.98 L1066.85,1324.54 L1063.61,1325.57 L1062.65,1331.55 L1055.35,1331.55 L1054.39,1325.57 L1051.15,1324.54 L1048.14,1322.98 L1043.23,1326.52 L1038.08,1321.37 L1041.62,1316.46 L1040.06,1313.45 L1039.03,1310.21 L1033.05,1309.25 L1033.05,1301.95 L1039.03,1300.99 L1040.06,1297.75 L1041.62,1294.74 L1038.08,1289.83 L1043.23,1284.68 L1048.14,1288.22 Z" fill="none" stroke="#3a9de1" stroke-width="4.2" stroke-linejoin="round"/>
<circle cx="1059" cy="1305.6" r="8.8" fill="none" stroke="#3a9de1" stroke-width="4"/>
<circle cx="979.1" cy="2267" r="7.9" fill="#fff"/>
<circle cx="1012.2" cy="2267" r="7.9" fill="#fff"/>
<circle cx="1045.3" cy="2267" r="7.9" fill="#fff"/>
<path d="M542.0,675.7 L555.6,660.2 L569.2,675.7 M555.6,661.0 L555.6,690.3" fill="none" stroke="#4a4a4a" stroke-width="2.4" stroke-linejoin="miter"/>
<path d="M713.9,675.7 L727.5,660.2 L741.1,675.7 M727.5,661.0 L727.5,690.3" fill="none" stroke="#e2a20d" stroke-width="2.4" stroke-linejoin="miter"/>
<path d="M355.1,717.5 L368.7,732.8 L382.3,717.5 M368.7,732.0 L368.7,703.1" fill="none" stroke="#d13fd9" stroke-width="2.4" stroke-linejoin="miter"/>
<path d="M572.2,1310.5 L584.3,1297.6 L596.4,1310.5 M584.3,1298.4 L584.3,1323.6" fill="none" stroke="#e5323e" stroke-width="2.2" stroke-linejoin="miter"/>
<path d="M746.4,1310.1 L758.5,1297.2 L770.6,1310.1 M758.5,1298.0 L758.5,1323.6" fill="none" stroke="#4a4a4a" stroke-width="2.2" stroke-linejoin="miter"/>
<path d="M913.2,1310.1 L925.3,1297.2 L937.4,1310.1 M925.3,1298.0 L925.3,1323.6" fill="none" stroke="#e2a20d" stroke-width="2.2" stroke-linejoin="miter"/>
<path d="M567.5,1535.1 L579.6,1522.2 L591.7,1535.1 M579.6,1523.0 L579.6,1548.5" fill="none" stroke="#e2a20d" stroke-width="2.2" stroke-linejoin="miter"/>
<path d="M737.4,1535.1 L749.5,1522.2 L761.6,1535.1 M749.5,1523.0 L749.5,1548.5" fill="none" stroke="#4a4a4a" stroke-width="2.2" stroke-linejoin="miter"/>
<path d="M947.7,1535.1 L959.8,1522.2 L971.9,1535.1 M959.8,1523.0 L959.8,1548.5" fill="none" stroke="#ee20ee" stroke-width="2.2" stroke-linejoin="miter"/>
</svg>
<div class="b" style="left:0;top:2202.3px;width:1125px;height:233.7px;background:#202035;z-index:3"></div>
<div class="b" style="left:224.9px;top:2202.3px;width:225.1px;height:131px;background:#e8333f;z-index:3"></div>
<div class="b" style="left:450px;top:2202.3px;width:225.3px;height:131px;background:#33a0e8;z-index:3"></div>
<div class="b" style="left:675.3px;top:2202.3px;width:224.5px;height:131px;background:#6e8aa2;z-index:3"></div>
<div class="b" style="left:362px;top:2397.6px;width:401.3px;height:14.1px;background:#fff;border-radius:7px;z-index:3"></div>
<svg width="1125" height="2436" viewBox="0 0 1125 2436" style="z-index:4">
<path d="M193,2255.4 L203.8,2238.2 L214.6,2255.4 Z" fill="#fff"/>
<circle cx="979.1" cy="2267" r="7.9" fill="#fff"/><circle cx="1012.2" cy="2267" r="7.9" fill="#fff"/><circle cx="1045.3" cy="2267" r="7.9" fill="#fff"/>
</svg>
<div style="position:absolute;left:0;top:0;width:1125px;height:2436px;z-index:5">
<div class="t" style="left:77.00px;top:45.50px;font-size:46.52px;color:#ffffff;font-weight:normal;transform:scaleX(1.0657);-webkit-text-stroke:1.6px #ffffff">19:09</div>
<div class="t" style="left:438.50px;top:149.25px;font-size:52.66px;color:#ffffff;font-weight:normal;transform:scaleX(1.0195)">鑫科材料</div>
<div class="t" style="left:498.00px;top:217.50px;font-size:29.64px;color:#ffffff;font-weight:normal;transform:scaleX(0.9653);-webkit-text-stroke:0.6px #ffffff">600255</div>
<div class="t" style="left:44.75px;top:266.55px;font-size:90.29px;color:#e5323e;font-weight:normal;transform:scaleX(0.9081);-webkit-text-stroke:1.6px #e5323e">3.01</div>
<div class="t" style="left:257.50px;top:295.30px;font-size:29.15px;color:#3a9de1;font-weight:normal;transform:scaleX(1.0260)">提醒</div>
<div class="t" style="left:45.00px;top:365.30px;font-size:43.43px;color:#e5323e;font-weight:normal;transform:scaleX(0.9001);-webkit-text-stroke:0.8px #e5323e">+0.07</div>
<div class="t" style="left:186.80px;top:366.85px;font-size:36.28px;color:#e5323e;font-weight:normal;transform:scaleX(1.1354);-webkit-text-stroke:0.8px #e5323e">[+2.38%]</div>
<div class="t" style="left:486.80px;top:274.50px;font-size:34.82px;color:#999999;font-weight:normal;transform:scaleX(1.0211)">开</div>
<div class="t" style="left:532.85px;top:270.50px;font-size:42.17px;color:#e5323e;font-weight:normal;transform:scaleX(0.9587);-webkit-text-stroke:0.8px #e5323e">3.00</div>
<div class="t" style="left:731.25px;top:275.50px;font-size:34.82px;color:#999999;font-weight:normal;transform:scaleX(1.0211)">量</div>
<div class="t" style="left:777.50px;top:270.50px;font-size:42.17px;color:#4a4a4a;font-weight:normal;transform:scaleX(0.9587);-webkit-text-stroke:0.5px #4a4a4a">335万</div>
<div class="t" style="left:487.30px;top:356.00px;font-size:34.82px;color:#999999;font-weight:normal;transform:scaleX(1.0211)">换</div>
<div class="t" style="left:533.75px;top:351.00px;font-size:42.17px;color:#4a4a4a;font-weight:normal;transform:scaleX(0.9587);-webkit-text-stroke:0.5px #4a4a4a">18.93%</div>
<div class="t" style="left:730.75px;top:356.00px;font-size:34.82px;color:#999999;font-weight:normal;transform:scaleX(1.0211)">额</div>
<div class="t" style="left:777.50px;top:351.00px;font-size:42.17px;color:#4a4a4a;font-weight:normal;transform:scaleX(0.9587);-webkit-text-stroke:0.5px #4a4a4a">9.85亿</div>
<div class="t" style="left:996.25px;top:352.00px;font-size:35.48px;color:#f08a24;font-weight:normal;transform:scaleX(1.0182)">删自选</div>
<div class="t" style="left:35.75px;top:438.40px;font-size:33.63px;color:#999999;font-weight:normal;transform:scaleX(1.0862)">最高</div>
<div class="t" style="left:36.10px;top:490.05px;font-size:42.94px;color:#e5323e;font-weight:normal;transform:scaleX(0.9361);-webkit-text-stroke:0.8px #e5323e">3.09</div>
<div class="t" style="left:278.50px;top:438.40px;font-size:33.63px;color:#999999;font-weight:normal;transform:scaleX(1.0862)">最低</div>
<div class="t" style="left:279.45px;top:490.05px;font-size:42.94px;color:#1aa552;font-weight:normal;transform:scaleX(0.9361);-webkit-text-stroke:0.8px #1aa552">2.76</div>
<div class="t" style="left:522.40px;top:438.90px;font-size:33.63px;color:#999999;font-weight:normal;transform:scaleX(1.0862)">量比</div>
<div class="t" style="left:521.50px;top:489.70px;font-size:42.94px;color:#4a4a4a;font-weight:normal;transform:scaleX(0.9361);-webkit-text-stroke:0.5px #4a4a4a">1.61</div>
<div class="t" style="left:766.40px;top:438.40px;font-size:33.63px;color:#999999;font-weight:normal;transform:scaleX(1.0862)">市值</div>
<div class="t" style="left:767.50px;top:489.70px;font-size:42.94px;color:#4a4a4a;font-weight:normal;transform:scaleX(0.9361);-webkit-text-stroke:0.5px #4a4a4a">54.17亿</div>
<div class="t" style="left:49.35px;top:576.40px;font-size:45.73px;color:#555555;font-weight:normal;transform:scaleX(0.9653)">分时</div>
<div class="t" style="left:237.25px;top:575.40px;font-size:45.73px;color:#555555;font-weight:normal;transform:scaleX(0.9653)">五日</div>
<div class="t" style="left:430.85px;top:575.40px;font-size:45.73px;color:#3a9de1;font-weight:normal;transform:scaleX(0.9653);-webkit-text-stroke:0.5px #3a9de1">日K</div>
<div class="t" style="left:619.15px;top:574.55px;font-size:45.73px;color:#555555;font-weight:normal;transform:scaleX(0.9653);-webkit-text-stroke:0.5px #555555">周K</div>
<div class="t" style="left:808.90px;top:574.05px;font-size:45.73px;color:#555555;font-weight:normal;transform:scaleX(0.9653);-webkit-text-stroke:0.5px #555555">月K</div>
<div class="t" style="left:972.70px;top:575.55px;font-size:45.73px;color:#555555;font-weight:normal;transform:scaleX(0.9653);-webkit-text-stroke:0.5px #555555">年K</div>
<div class="t" style="left:41.40px;top:679.70px;font-size:28.72px;color:#f08a24;font-weight:normal;transform:scaleX(1.0337)">不复权</div>
<div class="t" style="left:204.90px;top:655.40px;font-size:33.97px;color:#4a4a4a;font-weight:normal;transform:scaleX(0.9742);-webkit-text-stroke:0.6px #4a4a4a">BOLL(20,2):</div>
<div class="t" style="left:402.60px;top:655.50px;font-size:33.97px;color:#4a4a4a;font-weight:normal;transform:scaleX(0.9742);-webkit-text-stroke:0.6px #4a4a4a">MID:2.42</div>
<div class="t" style="left:590.80px;top:655.50px;font-size:33.97px;color:#e2a20d;font-weight:normal;transform:scaleX(0.9742);-webkit-text-stroke:0.6px #e2a20d">UP:2.87</div>
<div class="t" style="left:202.25px;top:699.00px;font-size:33.97px;color:#d13fd9;font-weight:normal;transform:scaleX(0.9742);-webkit-text-stroke:0.6px #d13fd9">LOW:1.96</div>
<div class="t" style="left:941.70px;top:677.00px;font-size:36.17px;color:#3a9de1;font-weight:normal;transform:scaleX(0.9970)">区间统计</div>
<div class="t" style="left:20.75px;top:758.00px;font-size:30.07px;color:#999999;font-weight:normal;transform:scaleX(0.9556)">3.15</div>
<div class="t" style="left:20.25px;top:1188.25px;font-size:30.07px;color:#999999;font-weight:normal;transform:scaleX(0.9556)">1.91</div>
<div class="t" style="left:964.00px;top:746.70px;font-size:28.33px;color:#4a4a4a;font-weight:normal;transform:scaleX(1.0004);-webkit-text-stroke:0.3px #4a4a4a">3.09</div>
<div class="t" style="left:346.80px;top:1195.00px;font-size:28.33px;color:#4a4a4a;font-weight:normal;transform:scaleX(1.0004);-webkit-text-stroke:0.3px #4a4a4a">1.98</div>
<div class="t" style="left:43.45px;top:1292.30px;font-size:29.65px;color:#4a4a4a;font-weight:normal;transform:scaleX(0.9387);-webkit-text-stroke:0.6px #4a4a4a">MACD</div>
<div class="t" style="left:201.70px;top:1293.50px;font-size:29.77px;color:#4a4a4a;font-weight:normal;transform:scaleX(0.9602);-webkit-text-stroke:0.6px #4a4a4a">MACD(12,26,9):</div>
<div class="t" style="left:420.35px;top:1293.50px;font-size:29.77px;color:#e5323e;font-weight:normal;transform:scaleX(0.9602);-webkit-text-stroke:0.6px #e5323e">MACD:0.14</div>
<div class="t" style="left:615.55px;top:1292.80px;font-size:29.77px;color:#4a4a4a;font-weight:normal;transform:scaleX(0.9602);-webkit-text-stroke:0.6px #4a4a4a">DIFF:0.16</div>
<div class="t" style="left:788.45px;top:1292.80px;font-size:29.77px;color:#e2a20d;font-weight:normal;transform:scaleX(0.9602);-webkit-text-stroke:0.6px #e2a20d">DEA:0.09</div>
<div class="t" style="left:51.00px;top:1352.30px;font-size:30.07px;color:#999999;font-weight:normal;transform:scaleX(0.9556)">0.16</div>
<div class="t" style="left:53.85px;top:1457.00px;font-size:30.07px;color:#999999;font-weight:normal;transform:scaleX(0.9556)">-0.09</div>
<div class="t" style="left:55.65px;top:1517.60px;font-size:29.65px;color:#4a4a4a;font-weight:normal;transform:scaleX(0.9387);-webkit-text-stroke:0.6px #4a4a4a">ENE</div>
<div class="t" style="left:209.70px;top:1517.55px;font-size:29.88px;color:#4a4a4a;font-weight:normal;transform:scaleX(0.9613);-webkit-text-stroke:0.6px #4a4a4a">ENE(10,11,9):</div>
<div class="t" style="left:402.45px;top:1517.55px;font-size:29.88px;color:#e2a20d;font-weight:normal;transform:scaleX(0.9613);-webkit-text-stroke:0.6px #e2a20d">UPPER:2.83</div>
<div class="t" style="left:611.55px;top:1517.55px;font-size:29.88px;color:#4a4a4a;font-weight:normal;transform:scaleX(0.9613);-webkit-text-stroke:0.6px #4a4a4a">ENE:2.58</div>
<div class="t" style="left:777.55px;top:1517.55px;font-size:29.88px;color:#ee20ee;font-weight:normal;transform:scaleX(0.9613);-webkit-text-stroke:0.6px #ee20ee">LOWER:2.32</div>
<div class="t" style="left:51.35px;top:1578.00px;font-size:30.07px;color:#999999;font-weight:normal;transform:scaleX(0.9556)">3.09</div>
<div class="t" style="left:52.20px;top:1682.00px;font-size:30.07px;color:#999999;font-weight:normal;transform:scaleX(0.9556)">1.88</div>
<div class="t" style="left:21.20px;top:1726.65px;font-size:30.93px;color:#999999;font-weight:normal;transform:scaleX(0.9794)">2021/10/08</div>
<div class="t" style="left:487.25px;top:1726.65px;font-size:30.93px;color:#999999;font-weight:normal;transform:scaleX(0.9794)">2021/11/19</div>
<div class="t" style="left:952.30px;top:1726.65px;font-size:30.93px;color:#999999;font-weight:normal;transform:scaleX(0.9794)">2021/12/30</div>
<div class="t" style="left:67.00px;top:1816.10px;font-size:43.98px;color:#3a9de1;font-weight:normal;transform:scaleX(1.0342);-webkit-text-stroke:0.6px #3a9de1">要闻</div>
<div class="t" style="left:291.00px;top:1816.60px;font-size:43.98px;color:#555555;font-weight:normal;transform:scaleX(1.0342);-webkit-text-stroke:0.4px #555555">板块</div>
<div class="t" style="left:516.70px;top:1816.35px;font-size:43.98px;color:#555555;font-weight:normal;transform:scaleX(1.0342);-webkit-text-stroke:0.4px #555555">资金</div>
<div class="t" style="left:747.75px;top:1813.35px;font-size:46.95px;color:#555555;font-weight:normal;transform:scaleX(0.9433);-webkit-text-stroke:0.7px #555555">F10</div>
<div class="t" style="left:966.65px;top:1816.35px;font-size:43.98px;color:#555555;font-weight:normal;transform:scaleX(1.0342);-webkit-text-stroke:0.4px #555555">诊股</div>
<div class="t" style="left:158.25px;top:1951.50px;font-size:41.55px;color:#ffffff;font-weight:normal;transform:scaleX(1.0800)">全部</div>
<div class="t" style="left:399.05px;top:1951.50px;font-size:41.55px;color:#555555;font-weight:normal;transform:scaleX(1.0800)">新闻</div>
<div class="t" style="left:637.75px;top:1951.50px;font-size:41.55px;color:#555555;font-weight:normal;transform:scaleX(1.0800)">公告</div>
<div class="t" style="left:876.75px;top:1951.50px;font-size:41.55px;color:#555555;font-weight:normal;transform:scaleX(1.0800)">研报</div>
<div class="t" style="left:60.10px;top:2113.55px;font-size:28.44px;color:#f08a24;font-weight:normal;transform:scaleX(1.0723)">新闻</div>
<div class="t" style="left:187.10px;top:2068.30px;font-size:48.06px;color:#999999;font-weight:normal;transform:scaleX(0.9795)">12月29日鑫科材料涨停分析：有色·铜，</div>
<div class="t" style="left:189.10px;top:2129.65px;font-size:46.45px;color:#999999;font-weight:normal;transform:scaleX(1.0218)">有色金属，影视概念热股</div>
<div class="t" style="left:14.05px;top:2226.90px;font-size:45.66px;color:#e5323e;font-weight:normal;transform:scaleX(0.9549);-webkit-text-stroke:0.6px #e5323e">3619.19</div>
<div class="t" style="left:15.40px;top:2294.40px;font-size:27.73px;color:#ffffff;font-weight:normal;transform:scaleX(1.0611)">上证</div>
<div class="t" style="left:88.00px;top:2292.35px;font-size:28.34px;color:#e5323e;font-weight:normal;transform:scaleX(1.0175);-webkit-text-stroke:0.5px #e5323e">+0.62%</div>
<div class="t" style="left:311.80px;top:2247.90px;font-size:48.30px;color:#ffffff;font-weight:normal;transform:scaleX(1.0547)">买</div>
<div class="t" style="left:537.00px;top:2248.90px;font-size:48.30px;color:#ffffff;font-weight:normal;transform:scaleX(1.0547)">卖</div>
<div class="t" style="left:761.10px;top:2246.80px;font-size:51.09px;color:#ffffff;font-weight:normal;transform:scaleX(1.0062)">撤</div>
</div>
</body></html>
